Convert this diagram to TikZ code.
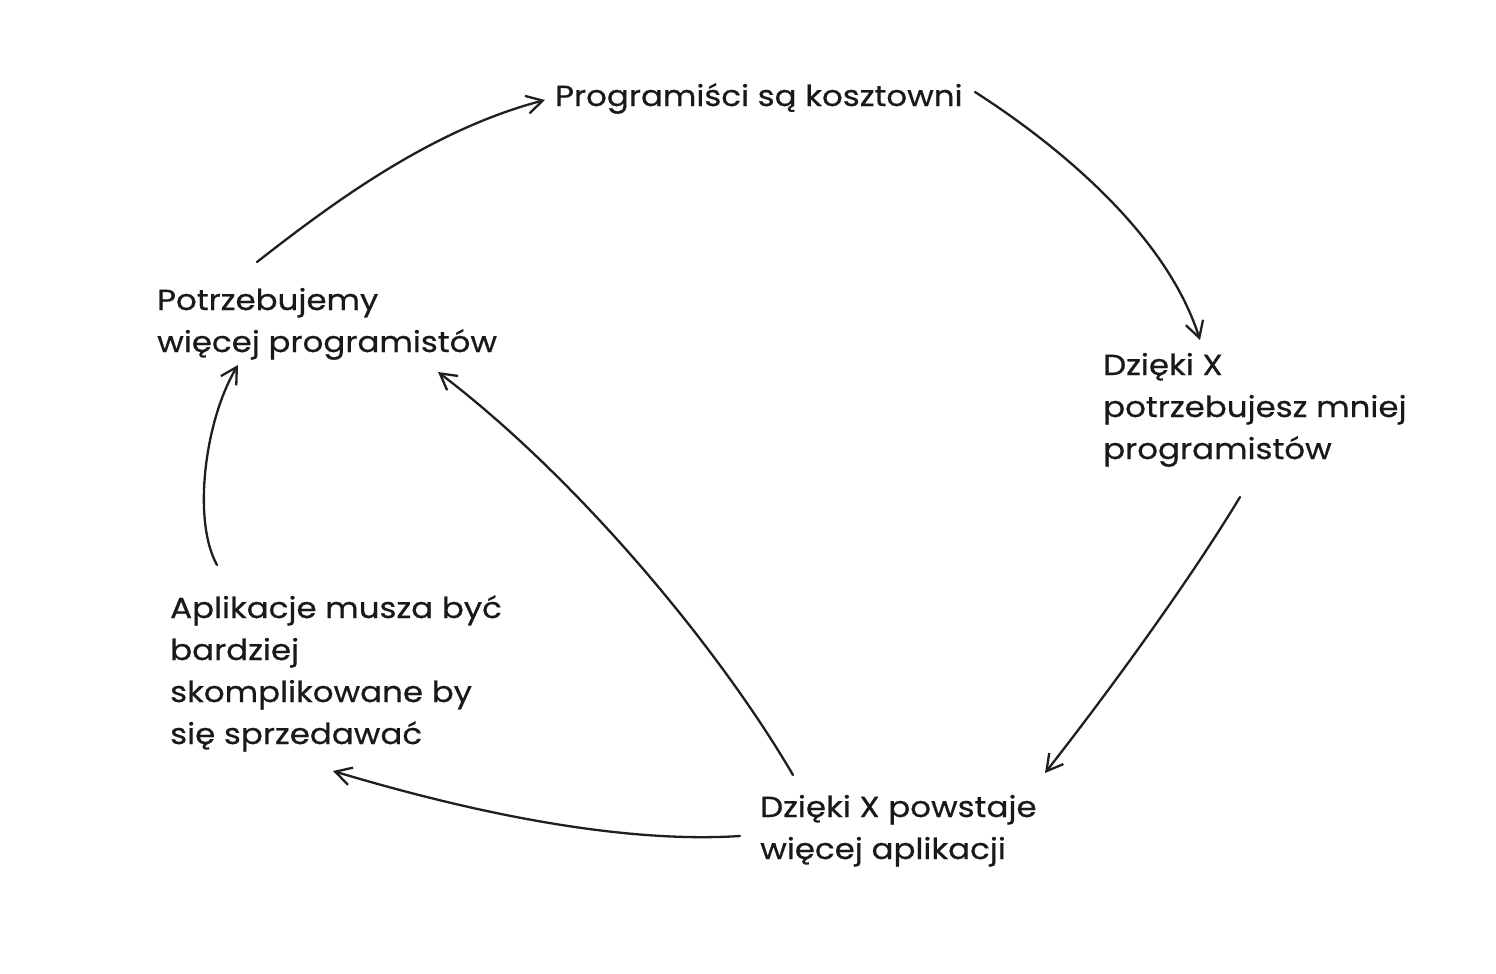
\documentclass[tikz,border=0pt]{standalone}
\usepackage{fontspec}
\setmainfont{Poppins}[FakeStretch=1.12,FakeBold=0.6]
\usetikzlibrary{arrows.meta}
\tikzset{
  lbl/.style={anchor=base west, inner sep=0pt, font=\fontsize{29}{42}\selectfont, text=black!90},
  conn/.style={line width=2.3pt, draw=black!88, line cap=round, -{Straight Barb[length=16pt,width=18pt,line width=2.3pt]}}
}
\newcommand{\lines}[1]{\begin{tabular}[t]{@{}l@{}}#1\end{tabular}}
\begin{document}
\begin{tikzpicture}[x=1pt,y=-1pt]
\useasboundingbox[fill=white] (0,0) rectangle (1496,974);
\node[lbl] (prog) at (555,106) {Programiści są kosztowni};
\node[lbl] (dz1) at (1103,375) {\lines{Dzięki X\\potrzebujesz mniej\\programistów}};
\node[lbl] (dz2) at (760,817) {\lines{Dzięki X powstaje\\więcej aplikacji}};
\node[lbl] (apl) at (170,618) {\lines{Aplikacje musza być\\bardziej\\skomplikowane by\\się sprzedawać}};
\node[lbl] (pot) at (157,310) {\lines{Potrzebujemy\\więcej programistów}};
% arrows
\draw[conn] ([shift={(420,-14)}]prog.base west) .. controls (1050,140) and (1165,230) .. ([shift={(97,-35)}]dz1.base west);
\draw[conn] ([shift={(137,122)}]dz1.base west) .. controls (1190,580) and (1110,690) .. ([shift={(285,-44)}]dz2.base west);
\draw[conn] ([shift={(-20,19)}]dz2.base west) .. controls (600,845) and (430,800) .. ([shift={(163,153)}]apl.base west);
\draw[conn] ([shift={(47,-53)}]apl.base west) .. controls (192,520) and (205,420) .. ([shift={(81,55)}]pot.base west);
\draw[conn] ([shift={(100,-48)}]pot.base west) .. controls (330,205) and (430,130) .. ([shift={(-10,-6)}]prog.base west);
\draw[conn] ([shift={(33,-42)}]dz2.base west) .. controls (720,650) and (580,480) .. ([shift={(281,62)}]pot.base west);
\end{tikzpicture}
\end{document}
